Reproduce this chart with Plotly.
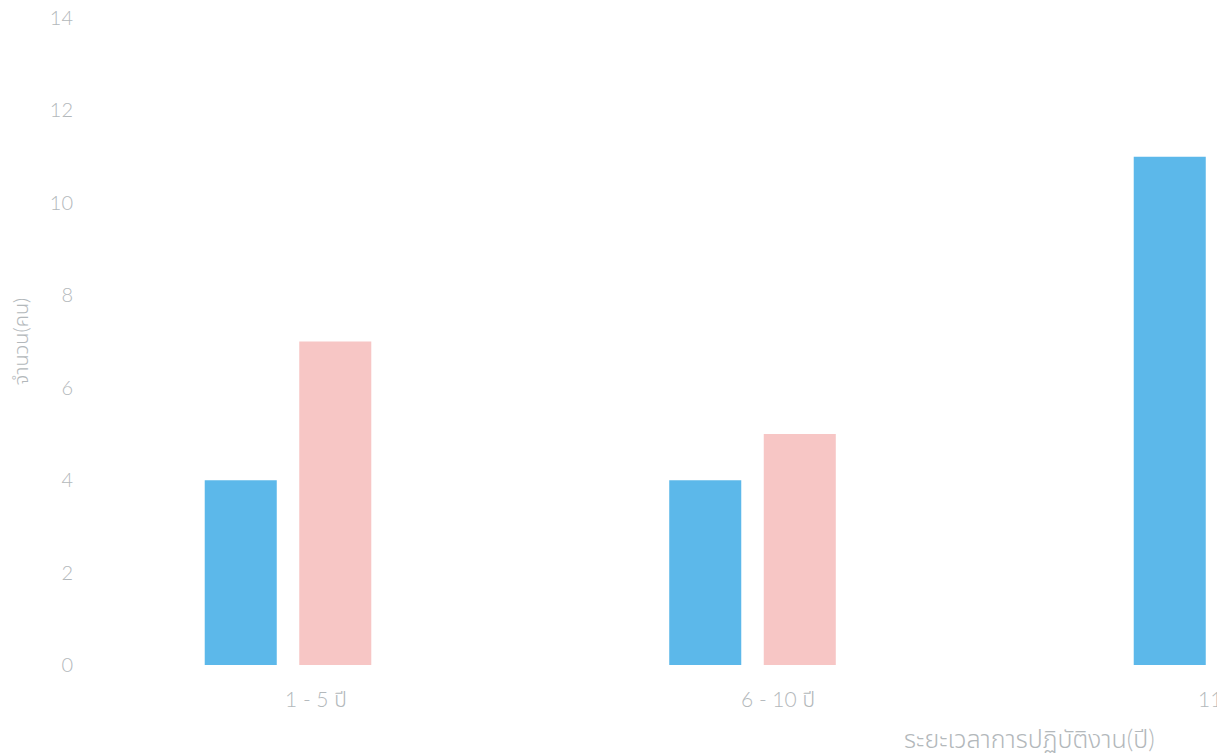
import plotly.graph_objects as go

categories = ["1 - 5 ปี", "6 - 10 ปี", "11"]
tick_labels = ["1 - 5 ปี", "6 - 10 ปี", "11"]
series_blue = [4, 4, 11]
series_pink = [7, 5, 0]
y_ticks = [0, 2, 4, 6, 8, 10, 12, 14]
y_title = "จำนวน(คน)"
x_title = "ระยะเวลาการปฏิบัติงาน(ปี)"

FONT = "Lato, Noto Sans Thai, sans-serif"
GRAY = "#b3b8bb"

W, H = 1217, 748          # page adds ~8px body margin
L, T, B = 72, 10, 91
PH = H - T - B

fig = go.Figure()
fig.add_trace(go.Bar(x=categories, y=series_blue, marker=dict(color="#5cb8ea", line=dict(width=0)), name="A"))
fig.add_trace(go.Bar(x=categories, y=series_pink, marker=dict(color="#f7c6c5", line=dict(width=0)), name="B"))

fig.update_layout(
    width=W, height=H,
    margin=dict(l=L, r=0, t=T, b=B, autoexpand=False),
    paper_bgcolor="white", plot_bgcolor="white",
    barmode="group", bargap=0.593, bargroupgap=0.238,
    showlegend=False,
    font=dict(family=FONT, size=18, color=GRAY, weight=300),
)
fig.update_xaxes(
    range=[-0.4478, 2.0172], showgrid=False, showline=False, zeroline=False,
    automargin=False, showticklabels=False, ticks="",
)
fig.update_yaxes(
    range=[0, 14], tickvals=y_ticks, showgrid=False, showline=False, zeroline=False,
    automargin=False, ticklabeloverflow="allow",
    ticks="", tickfont=dict(family=FONT, size=20, color=GRAY, weight=300), ticklabelstandoff=6,
    title=dict(text=y_title, font=dict(family=FONT, size=20, color=GRAY, weight=300), standoff=26),
)
# category labels (drawn as annotations so they can sit slightly off-centre as in the source)
label_shift = [28, 25, -7]
for i, (lab, dx) in enumerate(zip(tick_labels, label_shift)):
    fig.add_annotation(
        text=lab, xref="x", yref="paper", x=i, y=(657 - 690) / PH,
        xanchor="center", yanchor="middle", xshift=dx, showarrow=False,
        font=dict(family=FONT, size=21, color=GRAY, weight=300),
    )
fig.add_annotation(
    text=x_title, xref="paper", yref="paper",
    x=(1149 - L) / (W - L), y=(657 - 730) / PH,
    xanchor="right", yanchor="middle", showarrow=False,
    font=dict(family=FONT, size=25, color=GRAY, weight=300),
)
fig.write_html("out.html")
